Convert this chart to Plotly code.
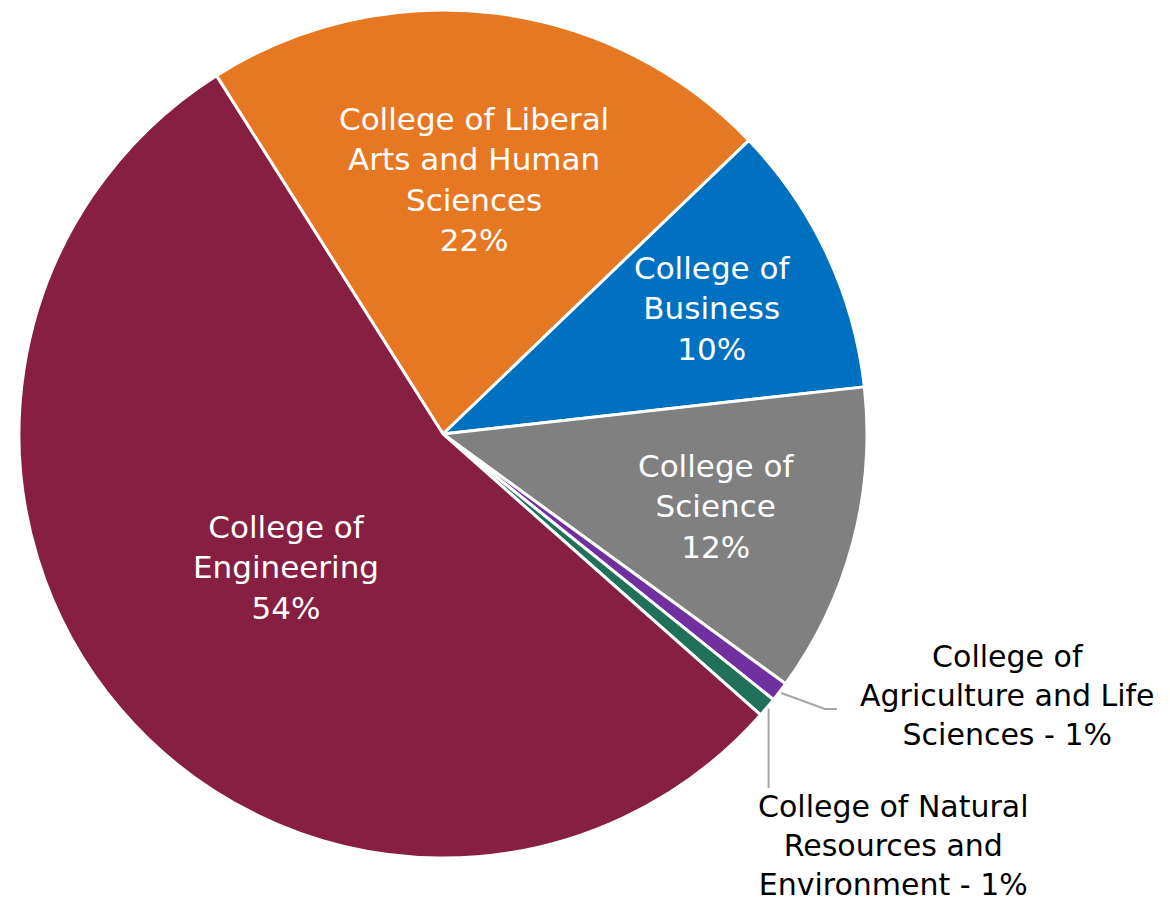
import math
import plotly.graph_objects as go

# ---- data ----
colleges = [
    "College of Liberal Arts and Human Sciences",
    "College of Business",
    "College of Science",
    "College of Agriculture and Life Sciences",
    "College of Natural Resources and Environment",
    "College of Engineering",
]
shares = [21.8, 10.4, 11.8, 0.75, 0.75, 54.5]
pct_labels = ["22%", "10%", "12%", "1%", "1%", "54%"]
label_texts = [
    "College of Liberal<br>Arts and Human<br>Sciences<br>22%",
    "College of<br>Business<br>10%",
    "College of<br>Science<br>12%",
    "College of<br>Agriculture and Life<br>Sciences - 1%",
    "College of Natural<br>Resources and<br>Environment - 1%",
    "College of<br>Engineering<br>54%",
]
colors = ["#E77823", "#0070C0", "#808080", "#7030A0", "#21705A", "#861F41"]

# ---- layout / style ----
W, H = 1170, 900
OFF = 8                            # page body margin offset
CX, CY, R = 443 - OFF, 434 - OFF, 424   # pie centre and radius in figure pixels
ROTATION = -32.3                   # start angle of first slice (deg, clockwise from 12 o'clock)
FONT = "DejaVu Sans"
FSIZE_IN = 31
FSIZE_OUT = 30
inside_radius = {0: 0.605, 1: 0.70, 2: 0.667, 5: 0.485}
outside_pos = {3: (1007 - OFF, 695 - OFF), 4: (893 - OFF, 845 - OFF)}

fig = go.Figure(go.Pie(
    labels=colleges,
    values=shares,
    sort=False,
    direction="clockwise",
    rotation=ROTATION,
    marker=dict(colors=colors, line=dict(color="white", width=3)),
    textinfo="none",
    hoverinfo="label+percent",
    showlegend=False,
    domain=dict(x=[(CX - R) / W, (CX + R) / W], y=[1 - (CY + R) / H, 1 - (CY - R) / H]),
))

total = sum(shares)
angles = []
a = ROTATION
for v in shares:
    span = v / total * 360
    angles.append((a, a + span))
    a += span


def pt(ang_deg, rad):
    t = math.radians(ang_deg)
    return CX + rad * math.sin(t), CY - rad * math.cos(t)


annotations = []
for i, txt in enumerate(label_texts):
    mid = sum(angles[i]) / 2
    if i in inside_radius:
        x, y = pt(mid, inside_radius[i] * R)
        color, size = "white", FSIZE_IN
    else:
        x, y = outside_pos[i]
        color, size = "black", FSIZE_OUT
    annotations.append(dict(
        x=x / W, y=1 - y / H, xref="paper", yref="paper",
        text=txt, showarrow=False, xanchor="center", yanchor="middle",
        font=dict(family=FONT, size=size, color=color), align="center",
    ))

shapes = []
lc = dict(color="#A6A6A6", width=2)
# leader for agriculture slice
mx, my = pt(sum(angles[3]) / 2, R + 2)
ex, ey = 825 - OFF, 709 - OFF
shapes.append(dict(type="path", xref="paper", yref="paper",
                   path=f"M {mx / W},{1 - my / H} L {ex / W},{1 - ey / H} L {(ex + 12) / W},{1 - ey / H}",
                   line=lc))
# leader for natural resources slice
nx, ny = pt(sum(angles[4]) / 2, R + 2)
shapes.append(dict(type="line", xref="paper", yref="paper",
                   x0=nx / W, y0=1 - ny / H, x1=nx / W, y1=1 - (788 - OFF) / H, line=lc))

fig.update_layout(
    width=W, height=H,
    margin=dict(l=0, r=0, t=0, b=0),
    paper_bgcolor="white", plot_bgcolor="white",
    annotations=annotations, shapes=shapes,
)
fig.write_html("out.html")
